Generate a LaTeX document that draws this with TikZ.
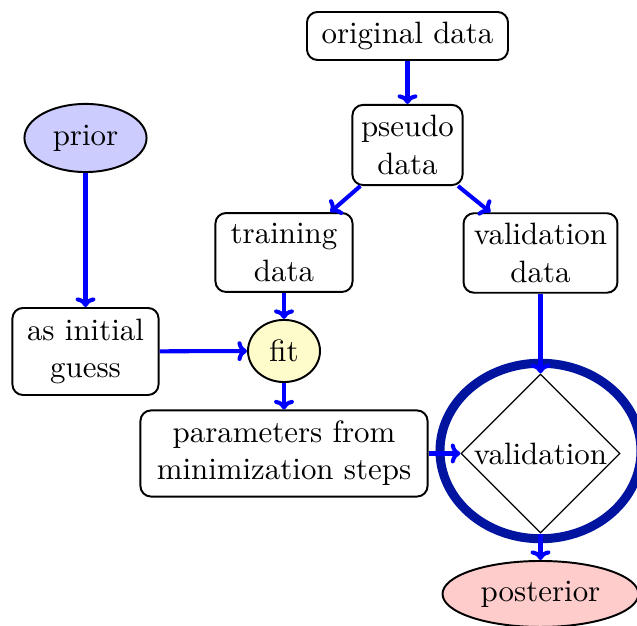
\documentclass[tikz,border=0pt]{standalone}
\usetikzlibrary{shapes.geometric,arrows.meta}
\definecolor{ringblue}{RGB}{0,20,160}
\begin{document}
\begin{tikzpicture}[x=0.3333pt,y=-0.3333pt,
  every node/.style={font=\fontsize{10.3pt}{12.4pt}\selectfont},
  box/.style={draw,rounded corners=3.5pt,line width=0.65pt,align=center,inner sep=0pt},
  oval/.style={draw,ellipse,line width=0.65pt,inner sep=0pt},
  arr/.style={draw=blue,line width=1.35pt,-{To[length=3.2pt,width=6.6pt]}}]
\useasboundingbox (0,0) rectangle (637,626);
\node[box,minimum width=67pt,minimum height=16pt] (orig) at (407.5,36) {original data};
\node[box,minimum width=36.7pt,minimum height=26.7pt] (pseudo) at (407.5,145) {pseudo\\data};
\node[oval,fill=blue!20,minimum width=40.7pt,minimum height=22.7pt] (prior) at (85.5,138) {prior};
\node[box,minimum width=45.7pt,minimum height=26.3pt] (train) at (284,252.5) {training\\data};
\node[box,minimum width=51.3pt,minimum height=26.5pt] (vdata) at (540.5,253) {validation\\data};
\node[box,minimum width=48.7pt,minimum height=29pt] (guess) at (85.5,351.5) {as initial\\guess};
\node[oval,fill=yellow!20,minimum width=24pt,minimum height=20.7pt] (fit) at (284,351) {fit};
\node[box,minimum width=95.7pt,minimum height=28.7pt] (params) at (284,453.5) {parameters from\\minimization steps};
\node[draw=ringblue,ellipse,line width=3pt,minimum width=67pt,minimum height=58.5pt,inner sep=0pt] (ring) at (540.5,451) {};
\node[draw,diamond,aspect=1,line width=0.45pt,minimum size=53pt,inner sep=0pt] (valid) at (540.5,453.5) {validation};
\node[oval,fill=red!20,minimum width=65.3pt,minimum height=22pt] (post) at (540.5,594) {posterior};
\draw[arr] (orig) -- (pseudo);
\draw[arr] (pseudo) -- (train);
\draw[arr] (pseudo) -- (vdata);
\draw[arr] (prior) -- (guess);
\draw[arr] (train) -- (fit);
\draw[arr] (guess) -- (fit);
\draw[arr] (fit) -- (params);
\draw[arr] (params.east) -- (valid.west);
\draw[arr] (vdata) -- (valid.north);
\draw[arr] (valid.south) -- (post.north);
\end{tikzpicture}
\end{document}
